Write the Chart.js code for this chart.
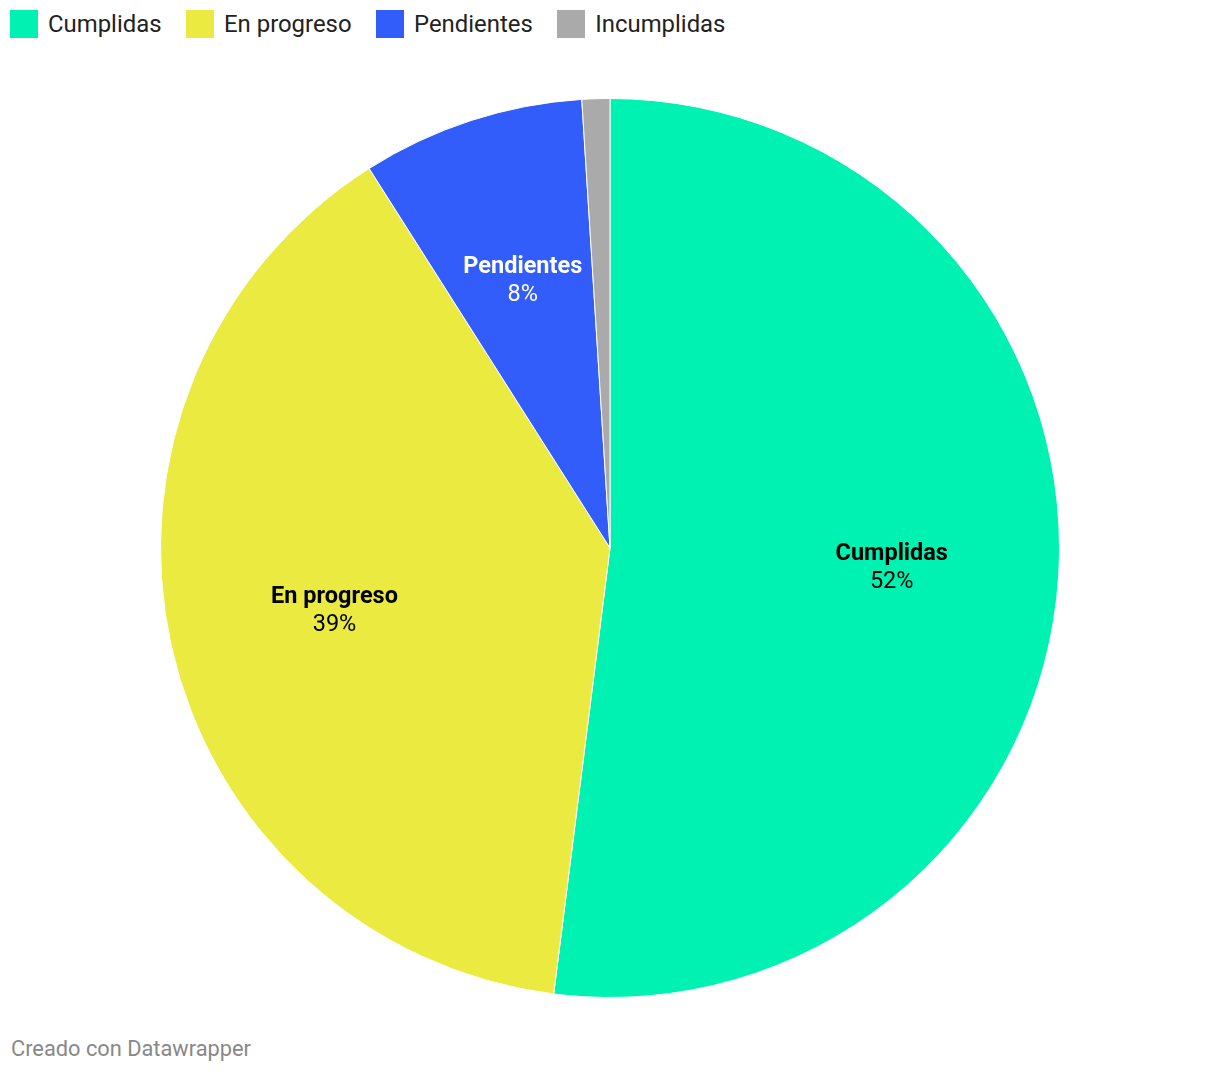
<!DOCTYPE html>
<html>
<head>
<meta charset="utf-8">
<script src="https://cdn.jsdelivr.net/npm/chart.js@4"></script>
<style>
  body { margin: 0; background: #fff; font-family: Roboto, sans-serif; }
  #legend { position: absolute; left: 10px; top: 10px; display: flex; }
  .item { display: flex; align-items: center; margin-right: 24.5px; font-size: 23.9px; line-height: 28px; color: #222; }
  .swatch { width: 28px; height: 28px; margin-right: 10px; }
  #wrap { position: absolute; left: 160px; top: 98px; width: 900px; height: 900px; }
  #footer { position: absolute; left: 11px; top: 1039px; font-size: 21.8px; line-height: 20px; color: #888; }
</style>
</head>
<body>
<div id="legend"></div>
<div id="wrap"><canvas id="pie" width="900" height="900"></canvas></div>
<div id="footer">Creado con Datawrapper</div>
<script>
const categories = ['Cumplidas', 'En progreso', 'Pendientes', 'Incumplidas'];
const shares = [52, 39, 8, 1];
const pctLabels = ['52%', '39%', '8%', ''];

const sliceColors = ['#00f2b2', '#ebea40', '#335dfa', '#aaaaaa'];
const textColors = ['#000', '#000', '#fff', '#000'];

document.getElementById('legend').innerHTML = categories.map((c, i) => `
  <div class="item"><div class="swatch" style="background:${sliceColors[i]}"></div>${c}</div>
`).join('');

// label + percentage in the middle of each slice (the 1% one stays empty)
const sliceLabels = {
  id: 'sliceLabels',
  afterDatasetsDraw(chart) {
    const ctx = chart.ctx;
    const arcs = chart.getDatasetMeta(0).data;
    ctx.save();
    ctx.textAlign = 'center';
    ctx.textBaseline = 'middle';
    arcs.forEach((arc, i) => {
      if (!pctLabels[i]) return;
      const mid = (arc.startAngle + arc.endAngle) / 2;
      const r = arc.outerRadius * 0.628;
      const x = arc.x + Math.cos(mid) * r;
      const y = arc.y + Math.sin(mid) * r;
      ctx.fillStyle = textColors[i];
      ctx.font = 'bold 23.5px Roboto';
      ctx.fillText(categories[i], x, y - 12);
      ctx.font = '23.5px Roboto';
      ctx.fillText(pctLabels[i], x, y + 16);
    });
    ctx.restore();
  },
};

new Chart(document.getElementById('pie'), {
  type: 'pie',
  data: {
    labels: categories,
    datasets: [{ data: shares, backgroundColor: sliceColors, borderColor: '#fff', borderWidth: 1 }],
  },
  options: {
    responsive: false,
    animation: false,
    plugins: { legend: { display: false }, tooltip: { enabled: false } },
  },
  plugins: [sliceLabels],
});
</script>
</body>
</html>
